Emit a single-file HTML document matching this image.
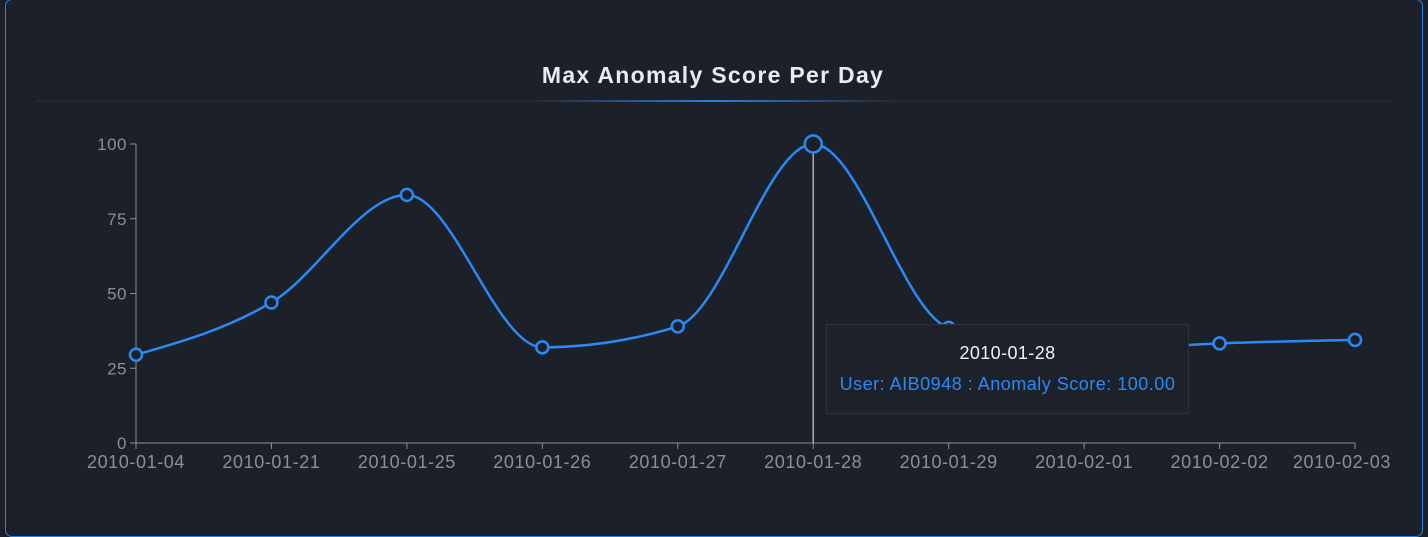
<!DOCTYPE html>
<html><head><meta charset="utf-8"><style>
html,body{margin:0;padding:0;background:#1b1f27;}
body{width:1428px;height:537px;position:relative;overflow:hidden;font-family:"Liberation Sans",sans-serif;}
#card{position:absolute;left:5px;top:-1px;width:1416px;height:536px;border:1px solid #2a7fe0;border-radius:7px;background:#1c2028;}
#tip{position:absolute;left:826px;top:324px;width:361px;height:88px;border:1px solid #2e333b;background:#1d2129;text-align:center;}
</style></head><body>
<div id="card"></div>
<svg id="chart" width="1428" height="537" style="position:absolute;left:0;top:0">
<defs><linearGradient id="hl" x1="0" x2="1"><stop offset="0" stop-color="#2a7fe0" stop-opacity="0"/><stop offset="0.5" stop-color="#2a7fe0"/><stop offset="1" stop-color="#2a7fe0" stop-opacity="0"/></linearGradient></defs>
<text x="713" y="83" text-anchor="middle" fill="#e8ecf2" font-size="23" letter-spacing="1.3" font-weight="bold">Max Anomaly Score Per Day</text>
<line x1="36" x2="1391" y1="101" y2="101" stroke="#2e333b"/>
<rect x="533" y="100" width="360" height="2" fill="url(#hl)"/>
<g id="axes"></g><g id="marks"></g>
</svg>
<div id="tip">
<div style="color:#f0f2f5;font-size:18px;letter-spacing:0.4px;margin-top:18px">2010-01-28</div>
<div style="color:#2a8af5;font-size:18px;letter-spacing:0.5px;margin-top:10px">User: AIB0948 : Anomaly Score: 100.00</div>
</div>
<script>
const categories=["2010-01-04","2010-01-21","2010-01-25","2010-01-26","2010-01-27","2010-01-28","2010-01-29","2010-02-01","2010-02-02","2010-02-03"];
const scores=[29.5,47,83,32,39,100,38.5,31,33.3,34.5];
const yTicks=[0,25,50,75,100];
const activeIndex=5;
const X0=136,X1=1355,Y0=443,Y1=144;
const x=i=>X0+(X1-X0)*i/(categories.length-1);
const y=v=>Y0-(Y0-Y1)*v/100;
const NS="http://www.w3.org/2000/svg";
function mk(t,a,p){const e=document.createElementNS(NS,t);for(const k in a)e.setAttribute(k,a[k]);p.appendChild(e);return e;}
const ax=document.getElementById('axes'),mg=document.getElementById('marks');
let e=mk('line',{x1:X0,x2:X0,y1:Y1,y2:Y0,stroke:'#8a8f98'},ax);


e=mk('line',{x1:X0,x2:X1,y1:Y0,y2:Y0,stroke:'#8a8f98'},ax);


yTicks.forEach(v=>{
 mk('line',{x1:X0-6,x2:X0,y1:y(v),y2:y(v),stroke:'#8a8f98'},ax);
 const t=mk('text',{x:X0-9,y:y(v)+6,'text-anchor':'end',fill:'#8a8f98','font-size':17,'letter-spacing':0.5},ax);t.textContent=v;
 
 
});
categories.forEach((c,i)=>{
 mk('line',{x1:x(i),x2:x(i),y1:Y0,y2:Y0+6,stroke:'#8a8f98'},ax);
 const last=i==categories.length-1;
 const t=mk('text',{x:last?1391:x(i),y:Y0+25,'text-anchor':last?'end':'middle',fill:'#8a8f98','font-size':18,'letter-spacing':0.6},ax);t.textContent=c;
 
 
});
e=mk('line',{x1:x(activeIndex),x2:x(activeIndex),y1:y(scores[activeIndex]),y2:Y0,stroke:'#a8adb5','stroke-width':1.5},mg);


const P=scores.map((v,i)=>[x(i),y(v)]);const n=P.length;
const d=[],m=[];for(let i=0;i<n-1;i++)d.push((P[i+1][1]-P[i][1])/(P[i+1][0]-P[i][0]));
for(let i=0;i<n;i++){if(i==0)m.push(d[0]);else if(i==n-1)m.push(d[n-2]);else{if(d[i-1]*d[i]<=0)m.push(0);else{const h0=P[i][0]-P[i-1][0],h1=P[i+1][0]-P[i][0];const p=(d[i-1]*h1+d[i]*h0)/(h0+h1);m.push((Math.sign(d[i-1])+Math.sign(d[i]))*Math.min(Math.abs(d[i-1]),Math.abs(d[i]),0.5*Math.abs(p)));}}}
m[0]=(3*d[0]-m[1])/2;m[n-1]=(3*d[n-2]-m[n-2])/2;
let s=`M${P[0][0]},${P[0][1]}`;
for(let i=0;i<n-1;i++){const h=(P[i+1][0]-P[i][0])/3;s+=`C${P[i][0]+h},${P[i][1]+m[i]*h} ${P[i+1][0]-h},${P[i+1][1]-m[i+1]*h} ${P[i+1][0]},${P[i+1][1]}`;}
e=mk('path',{d:s,fill:'none',stroke:'#2a8af5','stroke-width':2.5},mg);


P.forEach((p,i)=>{const c=mk('circle',{cx:p[0],cy:p[1],r:i==activeIndex?8.5:6,fill:'#1c2028',stroke:'#2a8af5','stroke-width':2.5},mg);
 
 });
</script>
</body></html>
